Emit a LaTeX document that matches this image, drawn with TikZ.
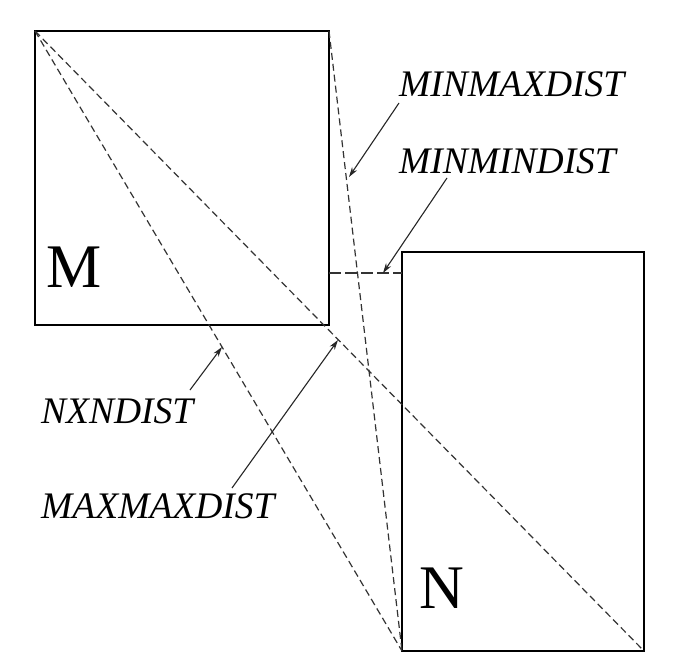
\documentclass[tikz,border=0pt]{standalone}
\usepackage{fontspec}
\setmainfont{Liberation Serif}
\usetikzlibrary{arrows.meta}
\begin{document}
\begin{tikzpicture}[x=1pt,y=-1pt,
 box/.style={draw, line width=2pt, inner sep=0pt, outer sep=0pt},
 dist/.style={draw=black!80, dash pattern=on 7pt off 4pt, line width=1.2pt},
 lbl/.style={font=\fontsize{37.5}{40}\selectfont\itshape, inner sep=0pt, anchor=base west},
 big/.style={font=\fontsize{62}{66}\selectfont, inner sep=0pt, anchor=base west},
 ptr/.style={draw=black!85, line width=1.1pt, -{Stealth[length=10pt,width=6pt]}}]
\useasboundingbox[fill=white] (0,0) rectangle (690,671);
\node[box, minimum width=294pt, minimum height=294pt] (M) at (182,178) {};
\node[box, minimum width=242pt, minimum height=399pt] (N) at (523,451.5) {};
\node[big] (Mlbl) at (46,287) {M};
\node[big] (Nlbl) at (419,608) {N};
% distance lines
\coordinate (mm) at (0,273);
\draw[dist] (M.north west) -- (N.south east);
\draw[dist] (M.north west) -- (N.south west);
\draw[dist] (M.north east) -- (N.south west);
\draw[dist, dash pattern=on 12pt off 4pt] (M.east |- mm) -- (N.west |- mm);
% labels
\node[lbl] (lminmax) at (399,97) {MINMAXDIST};
\node[lbl] (lminmin) at (399,174) {MINMINDIST};
\node[lbl] (lnxn) at (41,423) {NXNDIST};
\node[lbl] (lmaxmax) at (41,518) {MAXMAXDIST};
% arrow ends
\coordinate (a1s) at (399,103);
\coordinate (a1e) at (349,177);
\coordinate (a2s) at (447,178);
\coordinate (a2e) at (383,273);
\coordinate (a3s) at (190,390);
\coordinate (a3e) at (222,347);
\coordinate (a4s) at (232,488);
\coordinate (a4e) at (338,340);
\draw[ptr] (a1s) -- (a1e);
\draw[ptr] (a2s) -- (a2e);
\draw[ptr] (a3s) -- (a3e);
\draw[ptr] (a4s) -- (a4e);
\end{tikzpicture}
\end{document}
